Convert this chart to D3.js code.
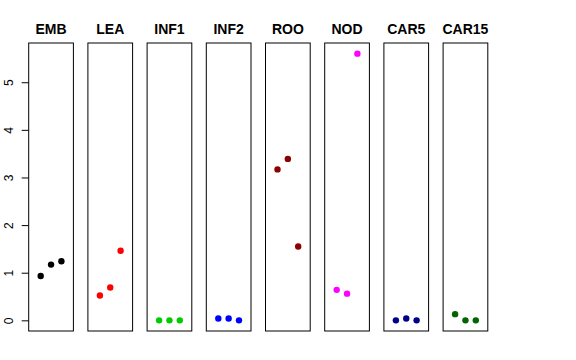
<!DOCTYPE html>
<html>
<head>
<meta charset="utf-8">
<script src="https://cdn.jsdelivr.net/npm/d3@7.9.0/dist/d3.min.js"></script>
<style>
  body { margin: 0; background: #fff; }
  svg { display: block; font-family: "Liberation Sans", Arial, sans-serif; }
</style>
</head>
<body>
<svg id="chart" width="576" height="360"></svg>
<script>
// tissue groups, three replicates each
const tissues = ['EMB', 'LEA', 'INF1', 'INF2', 'ROO', 'NOD', 'CAR5', 'CAR15'];
const colors = ['#000000', '#ff0000', '#00cd00', '#0000ff', '#8b0000', '#ff00ff', '#00008b', '#006400'];
const values = [
  [0.93, 1.17, 1.24],
  [0.52, 0.69, 1.46],
  [0.00, 0.00, 0.00],
  [0.04, 0.04, 0.00],
  [3.17, 3.39, 1.55],
  [0.64, 0.56, 5.60],
  [0.00, 0.04, 0.00],
  [0.13, 0.00, 0.00]
];
const yTicks = [0, 1, 2, 3, 4, 5];

const svg = d3.select('#chart');

const plotTop = 43, plotBottom = 331;
const panelW = 44.7, step = 59.2, left0 = 28.7;

// shared y scale, R style 4% padding around 0..5.6
const y = d3.scaleLinear().domain([-0.224, 5.824]).range([plotBottom, plotTop]);
// x within each panel: 0..4 padded
const x = d3.scaleLinear().domain([-0.16, 4.16]).range([0, panelW]);

tissues.forEach((name, i) => {
  const g = svg.append('g')
    .attr('transform', `translate(${left0 + i * step},0)`);

  g.append('rect')
    .attr('x', 0).attr('y', plotTop)
    .attr('width', panelW).attr('height', plotBottom - plotTop)
    .attr('fill', 'none')
    .attr('stroke', '#000')
    .attr('stroke-width', 1);

  g.append('text')
    .attr('x', panelW / 2)
    .attr('y', 34)
    .attr('text-anchor', 'middle')
    .attr('font-weight', 'bold')
    .attr('font-size', 14)
    .text(name);

  g.selectAll('circle')
    .data(values[i])
    .join('circle')
    .attr('cx', (d, j) => x(j + 1))
    .attr('cy', d => y(d))
    .attr('r', 3.2)
    .attr('fill', colors[i]);
});

// left axis
const axis = svg.append('g')
  .attr('transform', `translate(${left0},0)`)
  .call(d3.axisLeft(y).tickValues(yTicks).tickFormat(d3.format('d'))
    .tickSize(7).tickSizeOuter(0).tickPadding(4));
axis.select('.domain').remove();
axis.selectAll('line').attr('stroke', '#000');
axis.selectAll('text')
  .attr('font-size', 12)
  .attr('font-family', '"Liberation Sans", Arial, sans-serif')
  .attr('fill', '#000')
  .attr('text-anchor', 'middle')
  .attr('dy', null)
  .attr('x', null)
  .attr('transform', 'translate(-20,0) rotate(-90)')
  .attr('dominant-baseline', 'central');
</script>
</body>
</html>
